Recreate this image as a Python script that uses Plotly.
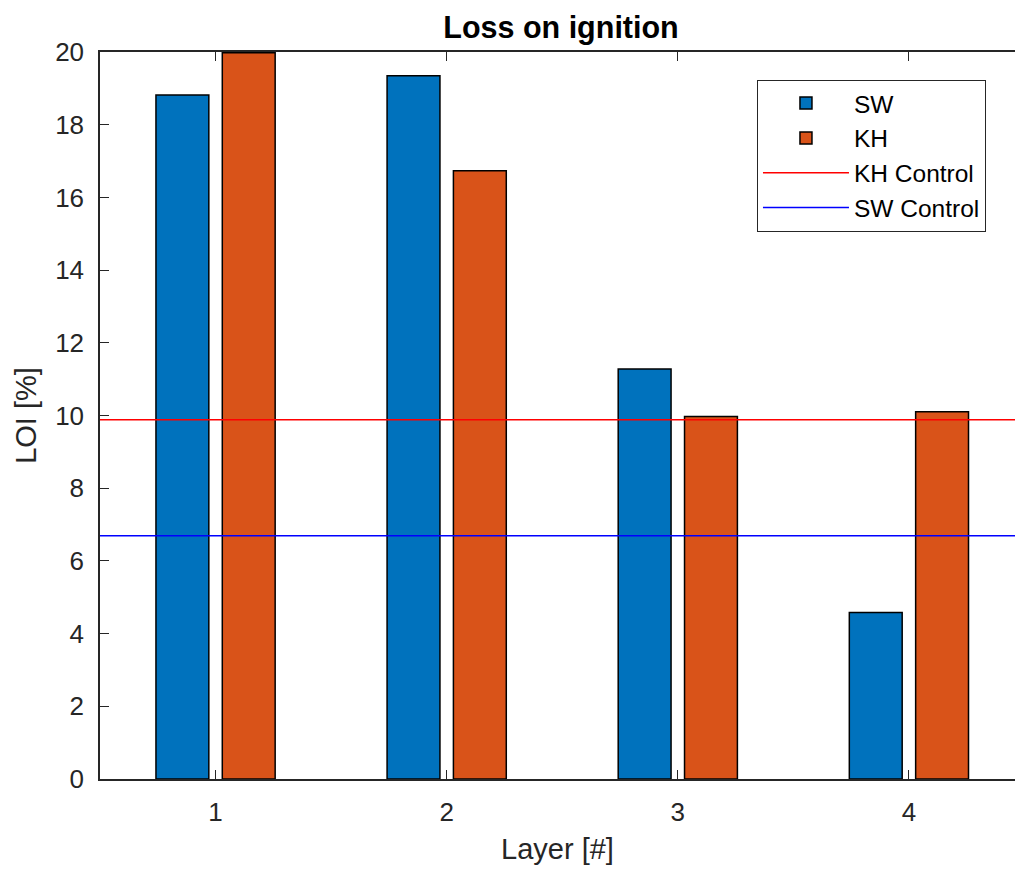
import plotly.graph_objects as go

layers = [1, 2, 3, 4]
sw_loi = [18.82, 19.35, 11.28, 4.58]
kh_loi = [19.98, 16.73, 9.97, 10.10]
kh_control = 9.88
sw_control = 6.69
x_limits = [0.5, 4.459]
y_ticks = [0, 2, 4, 6, 8, 10, 12, 14, 16, 18, 20]

FONT = "Liberation Sans, Arial, Helvetica, sans-serif"
AX = "#262626"

fig = go.Figure()
fig.add_trace(go.Bar(x=layers, y=sw_loi, name="SW",
                     marker=dict(color="#0072BD", line=dict(color="black", width=1.5))))
fig.add_trace(go.Bar(x=layers, y=kh_loi, name="KH",
                     marker=dict(color="#D95319", line=dict(color="black", width=1.5))))
fig.add_trace(go.Scatter(x=x_limits, y=[kh_control, kh_control], mode="lines",
                         name="KH Control", line=dict(color="#FF0000", width=1.5)))
fig.add_trace(go.Scatter(x=x_limits, y=[sw_control, sw_control], mode="lines",
                         name="SW Control", line=dict(color="#0000FF", width=1.5)))

fig.update_layout(
    width=1015, height=869,
    margin=dict(l=100, r=0, t=52, b=90),
    paper_bgcolor="white", plot_bgcolor="white",
    font=dict(family=FONT, size=26, color=AX),
    barmode="group", bargap=0.426, bargroupgap=0.203,
    title=dict(text="<b>Loss on ignition</b>", x=561 / 1015, xanchor="center",
               y=1 - 27 / 869, yanchor="middle",
               font=dict(family=FONT, size=30.5, color="black")),
    showlegend=True,
    legend=dict(x=0.718, y=0.962, xanchor="left", yanchor="top",
                bgcolor="white", bordercolor=AX, borderwidth=1,
                font=dict(family=FONT, size=24.5, color="black"),
                itemwidth=86, traceorder="normal", tracegroupgap=0),
    xaxis=dict(range=x_limits, tickmode="array", tickvals=layers,
               ticktext=[str(v) for v in layers],
               ticks="inside", ticklen=9, tickwidth=1, tickcolor=AX,
               showline=True, linecolor=AX, linewidth=1.5, mirror="ticks",
               showgrid=False, zeroline=False, ticklabelstandoff=9,
               tickfont=dict(family=FONT, size=26, color=AX),
               title=dict(text="Layer [#]", standoff=13,
                          font=dict(family=FONT, size=29, color=AX))),
    yaxis=dict(range=[0, 20], tickmode="array", tickvals=y_ticks,
               ticks="inside", ticklen=9, tickwidth=1, tickcolor=AX,
               showline=True, linecolor=AX, linewidth=1.5, mirror=False,
               showgrid=False, zeroline=False, ticklabelstandoff=9,
               tickfont=dict(family=FONT, size=26, color=AX),
               title=dict(text="LOI [%]", standoff=10,
                          font=dict(family=FONT, size=29, color=AX))),
)

fig.write_html("out.html")
